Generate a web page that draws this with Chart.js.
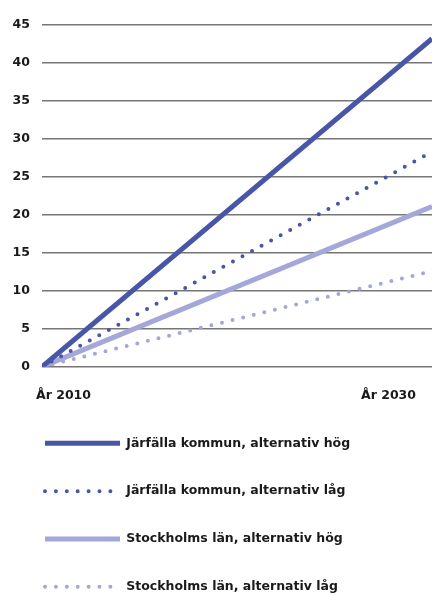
<!DOCTYPE html>
<html>
<head>
<meta charset="utf-8">
<script src="https://cdn.jsdelivr.net/npm/chart.js@4"></script>
<style>
  html, body { margin: 0; padding: 0; background: #ffffff; }
  #wrap { width: 432px; height: 595px; overflow: hidden; position: relative; }
  canvas { display: block; }
</style>
</head>
<body>
<div id="wrap"><canvas id="c" width="432" height="604"></canvas></div>
<script>
// ---- data ----
const years = [2010, 2034];
const jarfallaHog = [0, 43.2];
const jarfallaLag = [0, 28.3];
const stockholmHog = [0, 21.1];
const stockholmLag = [0, 12.6];

const seriesNames = [
  'Järfälla kommun, alternativ hög',
  'Järfälla kommun, alternativ låg',
  'Stockholms län, alternativ hög',
  'Stockholms län, alternativ låg'
];

const xTickValues = [2010, 2030];
const xTickLabels = ['År 2010', 'År 2030'];
const yTickValues = [0, 5, 10, 15, 20, 25, 30, 35, 40, 45];
const yTickLabels = ['0', '5', '10', '15', '20', '25', '30', '35', '40', '45'];

// ---- styles ----
const DARK = '#4856a8';
const LIGHT = '#a4a7d7';
const TEXT = '#1a1a1a';
const FONT = { family: '"DejaVu Sans", sans-serif', size: 12.5, weight: 'bold' };

const toPts = (vals) => years.map((y, i) => ({ x: y, y: vals[i] }));

const styles = [
  { color: DARK, width: 5, dash: [], cap: 'butt' },
  { color: DARK, width: 4, dash: [0, 10.9], cap: 'round' },
  { color: LIGHT, width: 5, dash: [], cap: 'butt' },
  { color: LIGHT, width: 4, dash: [0, 10.9], cap: 'round' }
];
const seriesValues = [jarfallaHog, jarfallaLag, stockholmHog, stockholmLag];

const datasets = seriesValues.map((vals, i) => ({
  label: seriesNames[i],
  data: toPts(vals),
  borderColor: styles[i].color,
  backgroundColor: styles[i].color,
  borderWidth: styles[i].width,
  borderDash: styles[i].dash,
  borderCapStyle: styles[i].cap,
  pointRadius: 0,
  pointHoverRadius: 0,
  fill: false,
  tension: 0
}));

new Chart(document.getElementById('c'), {
  type: 'line',
  data: { datasets },
  options: {
    responsive: false,
    animation: false,
    devicePixelRatio: 1,
    layout: { padding: { top: 25, left: 9.7, right: 0, bottom: 1 } },
    scales: {
      x: {
        type: 'linear',
        min: years[0],
        max: years[years.length - 1],
        grid: { display: false, drawTicks: false },
        border: { display: false },
        afterBuildTicks: (s) => { s.ticks = xTickValues.map(v => ({ value: v })); },
        afterFit: (s) => { s.height = 35; s.paddingLeft = 0; s.paddingRight = 0; },
        ticks: {
          padding: 21.5,
          labelOffset: 21.5,
          maxRotation: 0,
          autoSkip: false,
          color: TEXT,
          font: FONT,
          callback: (v) => xTickLabels[xTickValues.indexOf(v)]
        }
      },
      y: {
        type: 'linear',
        min: 0,
        max: 45,
        grid: { color: '#767676', lineWidth: 1.5, drawTicks: false },
        border: { display: false },
        afterBuildTicks: (s) => { s.ticks = yTickValues.map(v => ({ value: v })); },
        afterFit: (s) => { s.width = 42 - 9.7; },
        ticks: {
          padding: 12,
          color: TEXT,
          font: FONT,
          callback: (v) => yTickLabels[yTickValues.indexOf(v)]
        }
      }
    },
    plugins: {
      tooltip: { enabled: false },
      legend: {
        position: 'bottom',
        align: 'start',
        labels: {
          usePointStyle: true,
          pointStyleWidth: 75,
          padding: 35.3,
          color: TEXT,
          font: FONT,
          generateLabels: (chart) => chart.data.datasets.map((ds, i) => ({
            text: ds.label,
            fillStyle: styles[i].color,
            strokeStyle: styles[i].color,
            lineWidth: styles[i].width,
            lineDash: styles[i].dash,
            lineCap: styles[i].cap,
            pointStyle: 'line',
            fontColor: TEXT,
            hidden: false,
            datasetIndex: i
          }))
        }
      }
    }
  }
});
</script>
</body>
</html>
